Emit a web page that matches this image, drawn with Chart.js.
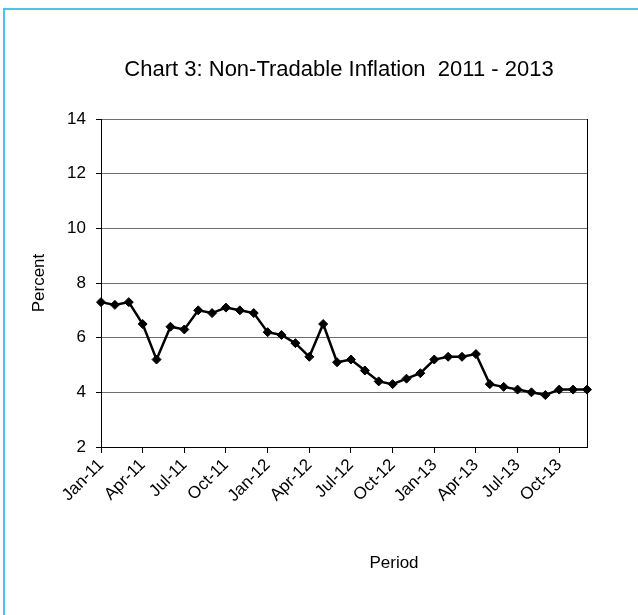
<!DOCTYPE html>
<html>
<head>
<meta charset="utf-8">
<script src="https://cdn.jsdelivr.net/npm/chart.js@4/dist/chart.umd.min.js"></script>
<style>
  html, body { margin: 0; padding: 0; background: #fff; overflow: hidden; }
  #frame { position: absolute; left: 3px; top: 8px; width: 700px; height: 700px; border: 2px solid #4cc3ef; }
  #chart { position: absolute; left: 0; top: 0; }
</style>
</head>
<body>
<div id="frame"></div>
<canvas id="chart" width="638" height="615"></canvas>
<script>
"use strict";

const months = [
  "Jan-11", "Feb-11", "Mar-11", "Apr-11", "May-11", "Jun-11",
  "Jul-11", "Aug-11", "Sep-11", "Oct-11", "Nov-11", "Dec-11",
  "Jan-12", "Feb-12", "Mar-12", "Apr-12", "May-12", "Jun-12",
  "Jul-12", "Aug-12", "Sep-12", "Oct-12", "Nov-12", "Dec-12",
  "Jan-13", "Feb-13", "Mar-13", "Apr-13", "May-13", "Jun-13",
  "Jul-13", "Aug-13", "Sep-13", "Oct-13", "Nov-13", "Dec-13",
];
const inflation = [
  7.3, 7.2, 7.3, 6.5, 5.2, 6.4, 6.3, 7.0, 6.9, 7.1, 7.0, 6.9,
  6.2, 6.1, 5.8, 5.3, 6.5, 5.1, 5.2, 4.8, 4.4, 4.3, 4.5, 4.7,
  5.2, 5.3, 5.3, 5.4, 4.3, 4.2, 4.1, 4.0, 3.9, 4.1, 4.1, 4.1,
];
const yTicks = [2, 4, 6, 8, 10, 12, 14];

const titleText = "Chart 3: Non-Tradable Inflation  2011 - 2013";
const xTitle = "Period";
const yTitle = "Percent";
const font = "'Liberation Sans', Arial, sans-serif";

// titles are placed where the original puts them, not centred on the plot
const textPlugin = {
  id: "texts",
  afterDraw(chart) {
    const ctx = chart.ctx;
    ctx.save();
    ctx.fillStyle = "#000";
    ctx.font = `22px ${font}`;
    ctx.textAlign = "center";
    ctx.textBaseline = "alphabetic";
    ctx.fillText(titleText, 339, 76);
    ctx.font = `17px ${font}`;
    ctx.fillText(xTitle, 394, 568);
    ctx.translate(44, 283);
    ctx.rotate(-Math.PI / 2);
    ctx.fillText(yTitle, 0, 0);
    ctx.restore();

    const { right, top, bottom } = chart.chartArea;
    ctx.save();
    ctx.strokeStyle = "#000";
    ctx.lineWidth = 1;
    ctx.beginPath();
    ctx.moveTo(Math.round(right) + 0.5, top);
    ctx.lineTo(Math.round(right) + 0.5, bottom);
    ctx.stroke();
    ctx.restore();
  },
};

new Chart(document.getElementById("chart"), {
  type: "line",
  data: {
    labels: months,
    datasets: [
      {
        data: inflation,
        borderColor: "#000",
        backgroundColor: "#000",
        borderWidth: 2.5,
        tension: 0,
        pointStyle: "rectRot",
        pointRadius: 4.5,
        pointBorderWidth: 1,
      },
    ],
  },
  options: {
    responsive: false,
    animation: false,
    layout: { padding: { top: 119, right: 51, left: 0, bottom: 0 } },
    plugins: { legend: { display: false }, tooltip: { enabled: false } },
    scales: {
      x: {
        offset: false,
        afterFit: (scale) => { scale.height = 168; },
        grid: {
          drawOnChartArea: false,
          drawTicks: true,
          tickLength: 6,
          tickColor: (c) => (c.index % 3 === 0 ? "#000" : "rgba(0,0,0,0)"),
        },
        border: { display: true, color: "#000", width: 1 },
        ticks: {
          autoSkip: false,
          minRotation: 45,
          maxRotation: 45,
          padding: 2,
          color: "#000",
          font: { family: font, size: 17 },
          callback: (value, index) => (index % 3 === 0 ? months[index] : ""),
        },
      },
      y: {
        min: yTicks[0],
        max: yTicks[yTicks.length - 1],
        afterFit: (scale) => { scale.width = 101; },
        afterBuildTicks: (scale) => {
          scale.ticks = yTicks.map((v) => ({ value: v }));
        },
        grid: {
          color: "#6e6e6e",
          lineWidth: 1,
          tickLength: 5,
          tickColor: "#000",
        },
        border: { display: true, color: "#000", width: 1 },
        ticks: {
          padding: 10,
          color: "#000",
          font: { family: font, size: 17 },
        },
      },
    },
  },
  plugins: [textPlugin],
});
</script>
</body>
</html>
